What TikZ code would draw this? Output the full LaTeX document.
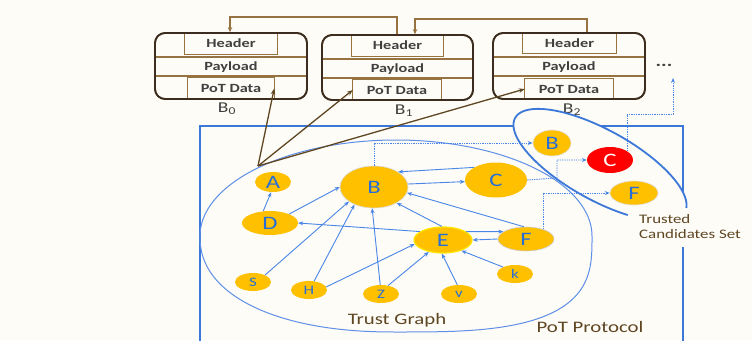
\documentclass[tikz,border=0pt]{standalone}
\usepackage{fontspec}
\setmainfont{Carlito}[FakeStretch=1.3]
\usetikzlibrary{arrows.meta,shapes.geometric,calc}
\definecolor{bg}{RGB}{253,252,246}
\definecolor{nodey}{RGB}{255,192,0}
\definecolor{ltxt}{RGB}{40,110,215}
\definecolor{arr}{RGB}{74,134,232}
\definecolor{rectb}{RGB}{60,120,216}
\definecolor{tgb}{RGB}{95,143,232}
\definecolor{brn}{RGB}{150,115,65}
\definecolor{dbrn}{RGB}{60,45,30}
\definecolor{larr}{RGB}{95,70,35}
\definecolor{lbl}{RGB}{95,70,35}
\definecolor{btxt}{RGB}{64,64,64}
\begin{document}
\begin{tikzpicture}[x=1pt,y=-1pt,
  gnode/.style={ellipse, fill=nodey, inner sep=0pt, text=ltxt, font=\fontsize{19}{19}\selectfont},
  snode/.style={ellipse, fill=nodey, inner sep=0pt, text=ltxt, font=\fontsize{13}{13}\selectfont},
  blk/.style={draw=dbrn, line width=1.7pt, rounded corners=10pt, fill=bg, inner sep=0pt},
  inbox/.style={draw=brn, line width=1.2pt},
  btext/.style={text=btxt, inner sep=0pt, font=\bfseries\fontsize{12.5}{12.5}\selectfont},
  blabel/.style={text=btxt, font=\fontsize{15}{15}\selectfont},
  conn/.style={draw=brn, line width=1.2pt, -{Stealth[length=5pt,width=4.5pt]}},
  larrow/.style={draw=larr, line width=1.3pt, -{Stealth[length=6pt,width=4.5pt]}},
  barrow/.style={draw=arr, line width=0.9pt, -{Stealth[length=5pt,width=4pt]}},
  darrow/.style={draw=arr, line width=0.9pt, dash pattern=on 1.3pt off 1pt, -{Stealth[length=5pt,width=4pt]}},
  bigtxt/.style={text=lbl, font=\fontsize{16}{16}\selectfont},
]
\fill[bg] (0,0) rectangle (752,340);
\useasboundingbox (0,0) rectangle (752,340);

% ---------- blocks ----------
\node[blk, minimum width=152pt, minimum height=66pt] (b0) at (231,66) {};
\node[btext, minimum width=92pt, minimum height=21pt] (h0) at (231,43.5) {Header};
\node[btext] (pl0) at (231,67) {Payload};
\node[btext, minimum width=86pt, minimum height=21pt] (p0) at (231,88.5) {PoT Data};
\draw[inbox] (h0.north west) |- (h0.south east) -- (h0.north east);
\draw[inbox] (p0.south west) |- (p0.north east) -- (p0.south east);
\draw[inbox] (155,57) -- (307,57);
\draw[inbox] (155,76) -- (307,76);
\node[blk, fill=none, minimum width=152pt, minimum height=66pt] at (231,66) {};
\node[blabel] (l0) at (227,109) {B\textsubscript{0}};

\node[blk, minimum width=151pt, minimum height=65pt] (b1) at (397.5,67.5) {};
\node[btext, minimum width=91pt, minimum height=21pt] (h1) at (397.5,45.5) {Header};
\node[btext] (pl1) at (397.5,69) {Payload};
\node[btext, minimum width=88pt, minimum height=20pt] (p1) at (397,90) {PoT Data};
\draw[inbox] (h1.north west) |- (h1.south east) -- (h1.north east);
\draw[inbox] (p1.south west) |- (p1.north east) -- (p1.south east);
\draw[inbox] (322,59) -- (473,59);
\draw[inbox] (322,78) -- (473,78);
\node[blk, fill=none, minimum width=151pt, minimum height=65pt] at (397.5,67.5) {};
\node[blabel] (l1) at (404,111) {B\textsubscript{1}};

\node[blk, minimum width=152pt, minimum height=66pt] (b2) at (569,66) {};
\node[btext, minimum width=93pt, minimum height=20pt] (h2) at (569.5,43) {Header};
\node[btext] (pl2) at (569,67) {Payload};
\node[btext, minimum width=88pt, minimum height=20pt] (p2) at (569,89) {PoT Data};
\draw[inbox] (h2.north west) |- (h2.south east) -- (h2.north east);
\draw[inbox] (p2.south west) |- (p2.north east) -- (p2.south east);
\draw[inbox] (493,57) -- (645,57);
\draw[inbox] (493,76) -- (645,76);
\node[blk, fill=none, minimum width=152pt, minimum height=66pt] at (569,66) {};
\node[blabel] (l2) at (572,110) {B\textsubscript{2}};

\node[text=btxt, font=\bfseries\fontsize{16}{16}\selectfont] (dots) at (664,65) {...};

% chain connectors
\coordinate (u1) at (397,17);
\coordinate (u0) at (230,17);
\coordinate (u2) at (587,19);
\coordinate (u1b) at (415,19);
\draw[conn] (b1.north -| u1) -- (u1) -- (u0) -- (b0.north -| u0);
\draw[conn] (b2.north -| u2) -- (u2) -- (u1b) -- (b1.north -| u1b);

% ---------- PoT protocol frame ----------
\coordinate (r1) at (683,207);
\coordinate (r2) at (683,126);
\coordinate (r3) at (200,126);
\coordinate (r4) at (200,345);
\coordinate (r5) at (683,247);
\coordinate (r6) at (683,345);
\draw[rectb, line width=1.8pt] (r1) -- (r2) -- (r3) -- (r4);
\draw[rectb, line width=1.8pt] (r5) -- (r6);

% trusted set ellipse fill
\fill[bg] plot[domain=0:360, samples=120, variable=\t]
  ({600+97*cos(\t)*0.875-35*sin(\t)*0.485},{165+97*cos(\t)*0.485+35*sin(\t)*0.875}) -- cycle;

% trust graph outline
\draw[tgb, line width=1pt]
  plot[domain=180:360, samples=90, variable=\t] ({396+196*cos(\t)},{236+96*sin(\t)})
  -- plot[domain=0.2:89.8, samples=60, variable=\t] ({396+196*cos(\t)^0.65},{236+96*sin(\t)^0.65})
  -- (396,332)
  -- plot[domain=89.8:0.2, samples=60, variable=\t] ({396-196*cos(\t)^0.9},{236+96*sin(\t)^0.9})
  -- cycle;
\coordinate (tg) at (258,166);

% trusted set outline (open near the label)
\draw[rectb, line width=1.8pt] plot[domain=60:353, samples=120, variable=\t]
  ({600+97*cos(\t)*0.875-35*sin(\t)*0.485},{165+97*cos(\t)*0.485+35*sin(\t)*0.875});

% ---------- trust graph nodes ----------
\node[gnode, minimum width=36pt, minimum height=20pt] (A) at (273,182) {A};
\node[gnode, minimum width=56pt, minimum height=24pt] (D) at (270,223) {D};
\node[gnode, draw=black!15, line width=0.6pt, minimum width=68pt, minimum height=42pt] (B) at (374,187) {B};
\node[gnode, minimum width=62pt, minimum height=35pt] (C) at (496,180) {C};
\node[gnode, draw={rgb,255:red,255;green,230;blue,0}, line width=1.2pt, minimum width=58pt, minimum height=26pt] (E) at (443,240) {E};
\node[gnode, draw=black!20, line width=0.6pt, minimum width=56pt, minimum height=24pt] (F) at (526,239) {F};
\node[snode, minimum width=36pt, minimum height=18pt] (S) at (253,282) {S};
\node[snode, minimum width=36pt, minimum height=18pt] (H) at (309,290) {H};
\node[snode, minimum width=36pt, minimum height=18pt] (Z) at (381,294) {Z};
\node[snode, minimum width=36pt, minimum height=18pt] (V) at (459,294) {v};
\node[snode, minimum width=36pt, minimum height=18pt] (K) at (515,274) {k};

% trusted candidates
\node[gnode, draw=black!12, line width=0.6pt, minimum width=38pt, minimum height=26pt] (Bt) at (552,143) {B};
\node[gnode, fill=red, text=white, minimum width=46pt, minimum height=26pt] (Ct) at (610,160) {C};
\node[gnode, draw=black!12, line width=0.6pt, minimum width=48pt, minimum height=24pt] (Ft) at (634,193) {F};

% ---------- trust edges ----------
\draw[barrow] (D.120) -- (A.-100);
\draw[barrow] (D.25) -- (B.180);
\draw[barrow] (E.160) -- (D.east);
\draw[barrow] (E.20) -- (F.162);
\draw[barrow] (F.west) -- (E.east);
\draw[barrow] (F.100) -- (B.350);
\draw[barrow] (E.95) -- (B.325);
\draw[barrow] (C.150) -- (B.32);
\draw[barrow] (B.5) -- (C.183);
\draw[barrow] (S.30) -- (B.210);
\draw[barrow] (H.60) -- (B.222);
\draw[barrow] (H.10) -- (E.188);
\draw[barrow] (Z.95) -- (B.265);
\draw[barrow] (Z.50) -- (E.220);
\draw[barrow] (V.100) -- (E.265);
\draw[barrow] (K.150) -- (E.330);

% dotted selection arrows
\coordinate (cbend) at (557,178);
\coordinate (dturn) at (627,114);
\coordinate (dturn2) at (673,114);
\coordinate (dotsend) at (673,78);
\draw[darrow] (B.north) |- (Bt.west);
\draw[darrow] (C.east) -- (cbend) |- (Ct.west);
\draw[darrow] (F.30) |- (Ft.west);
\draw[darrow] (Ct.27) -- (Ct.27 |- dturn) -- (dturn2) -- (dotsend);

% ---------- links to PoT data ----------
\draw[larrow] (tg) -- (p0.east);
\draw[larrow] (tg) -- (p1.west);
\draw[larrow] (tg) -- (p2.west);

% ---------- labels ----------
\node[bigtxt] (tgl) at (397,320) {Trust Graph};
\node[bigtxt] (ppl) at (590,327) {PoT Protocol};
\node[text=lbl, font=\fontsize{13}{15}\selectfont, align=left, anchor=north west, inner sep=0pt] (tcs) at (639,214) {Trusted\\Candidates Set};
\end{tikzpicture}
\end{document}
